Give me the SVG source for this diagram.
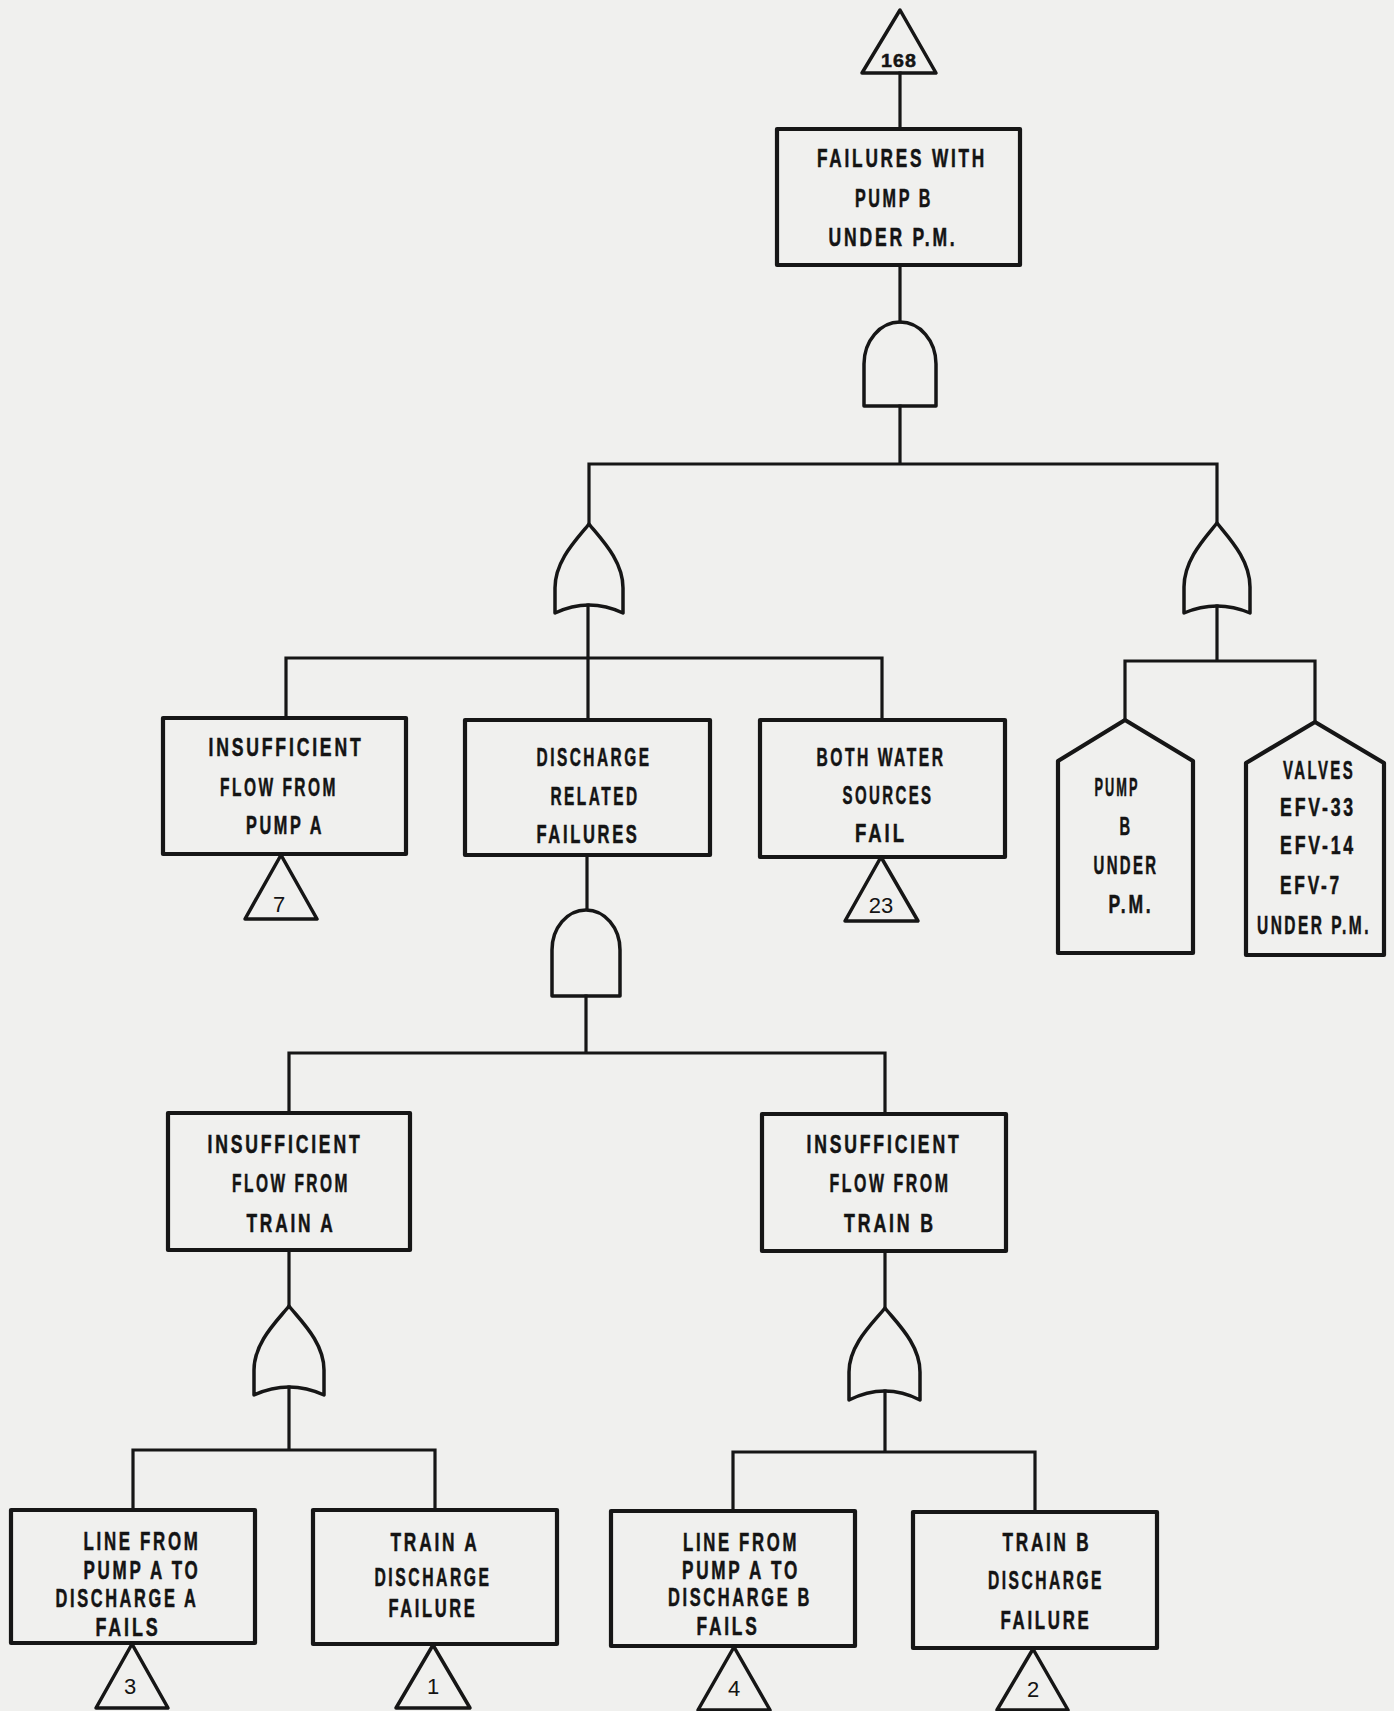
<svg xmlns="http://www.w3.org/2000/svg" width="1394" height="1711" viewBox="0 0 1394 1711">
<style>
.b{fill:none;stroke:#161616;stroke-width:4.2;stroke-linejoin:round}
.g{fill:none;stroke:#161616;stroke-width:3.5;stroke-linejoin:round}
.c{fill:none;stroke:#161616;stroke-width:3.2;stroke-linecap:square}
.t{font-family:"Liberation Sans",Arial,sans-serif;font-weight:bold;font-size:25px;letter-spacing:4px;fill:#141414;stroke:#141414;stroke-width:0.5;text-anchor:middle}
.n{font-family:"Liberation Sans",Arial,sans-serif;font-size:22px;fill:#141414;text-anchor:middle}
</style>
<rect width="1394" height="1711" fill="#f0f0ee"/>
<g id="connectors">
<path class="c" d="M900,73V129M900,265V322M900,406V464M589,464H1217M589,464V524M1217,464V523"/>
<path class="c" d="M588,605V720M286,658H882M286,658V718M882,658V720"/>
<path class="c" d="M1217,606V661M1125,661H1315M1125,661V720M1315,661V722"/>
<path class="c" d="M587,855V909M586,996V1053M289,1053H885M289,1053V1113M885,1053V1114"/>
<path class="c" d="M289,1250V1306M289,1387V1450M133,1450H435M133,1450V1510M435,1450V1510"/>
<path class="c" d="M885,1251V1308M885,1391V1452M733,1452H1035M733,1452V1510M1035,1452V1512"/>
</g>
<g id="transfer-168"><path class="g" d="M900,10L936,73H862Z"/><text class="t" x="899" y="67" style="font-size:18px;letter-spacing:1px" textLength="36" lengthAdjust="spacingAndGlyphs">168</text></g>
<g id="top-event"><rect class="b" x="777" y="129" width="243" height="136"/>
<text class="t" x="902" y="167" textLength="170" lengthAdjust="spacingAndGlyphs">FAILURES WITH</text><text class="t" x="894" y="207" textLength="78" lengthAdjust="spacingAndGlyphs">PUMP B</text><text class="t" x="893" y="246" textLength="129" lengthAdjust="spacingAndGlyphs">UNDER P.M.</text></g>
<g id="and-top"><path class="g" d="M864,406V364A36,42 0 0 1 936,364V406Z"/></g>
<g id="or-left"><path class="g" d="M589,524C578,538 555,560 555,588V613Q589,597 623,613V588C623,560 600,538 589,524Z"/></g>
<g id="or-right"><path class="g" d="M1217,523C1206,537 1184,559 1184,587V613Q1217,599 1250,613V587C1250,559 1228,537 1217,523Z"/></g>
<g id="pump-a"><rect class="b" x="163" y="718" width="243" height="136"/>
<text class="t" x="286" y="756" textLength="155" lengthAdjust="spacingAndGlyphs">INSUFFICIENT</text><text class="t" x="279" y="796" textLength="118" lengthAdjust="spacingAndGlyphs">FLOW FROM</text><text class="t" x="285" y="834" textLength="78" lengthAdjust="spacingAndGlyphs">PUMP A</text></g>
<g id="tri-7"><path class="g" d="M281,855L317,919H245Z"/><text class="n" x="279" y="912">7</text></g>
<g id="discharge"><rect class="b" x="465" y="720" width="245" height="135"/>
<text class="t" x="594" y="766" textLength="115" lengthAdjust="spacingAndGlyphs">DISCHARGE</text><text class="t" x="595" y="805" textLength="89" lengthAdjust="spacingAndGlyphs">RELATED</text><text class="t" x="588" y="843" textLength="103" lengthAdjust="spacingAndGlyphs">FAILURES</text></g>
<g id="water"><rect class="b" x="760" y="720" width="245" height="137"/>
<text class="t" x="881" y="766" textLength="129" lengthAdjust="spacingAndGlyphs">BOTH WATER</text><text class="t" x="888" y="804" textLength="91" lengthAdjust="spacingAndGlyphs">SOURCES</text><text class="t" x="881" y="842" textLength="52" lengthAdjust="spacingAndGlyphs">FAIL</text></g>
<g id="tri-23"><path class="g" d="M881,857L918,921H845Z"/><text class="n" x="881" y="913">23</text></g>
<g id="house-pump"><path class="b" d="M1125,720L1193,761V953H1058V761Z"/>
<text class="t" x="1117" y="796" textLength="45" lengthAdjust="spacingAndGlyphs">PUMP</text><text class="t" x="1126" y="835" textLength="13" lengthAdjust="spacingAndGlyphs">B</text><text class="t" x="1126" y="874" textLength="65" lengthAdjust="spacingAndGlyphs">UNDER</text><text class="t" x="1131" y="913" textLength="45" lengthAdjust="spacingAndGlyphs">P.M.</text></g>
<g id="house-valves"><path class="b" d="M1315,722L1384,763V955H1246V763Z"/>
<text class="t" transform="translate(1319,779) scale(0.6,1)" x="0" y="0">VALVES</text><text class="t" x="1318" y="816" textLength="76" lengthAdjust="spacingAndGlyphs">EFV-33</text><text class="t" x="1318" y="854" textLength="76" lengthAdjust="spacingAndGlyphs">EFV-14</text><text class="t" x="1311" y="894" textLength="62" lengthAdjust="spacingAndGlyphs">EFV-7</text><text class="t" transform="translate(1314,934) scale(0.62,1)" x="0" y="0">UNDER P.M.</text></g>
<g id="and-2"><path class="g" d="M552,996V950A34,40 0 0 1 620,950V996Z"/></g>
<g id="train-a"><rect class="b" x="168" y="1113" width="242" height="137"/>
<text class="t" x="285" y="1153" textLength="155" lengthAdjust="spacingAndGlyphs">INSUFFICIENT</text><text class="t" x="291" y="1192" textLength="118" lengthAdjust="spacingAndGlyphs">FLOW FROM</text><text class="t" x="291" y="1232" textLength="89" lengthAdjust="spacingAndGlyphs">TRAIN A</text></g>
<g id="train-b"><rect class="b" x="762" y="1114" width="244" height="137"/>
<text class="t" x="884" y="1153" textLength="155" lengthAdjust="spacingAndGlyphs">INSUFFICIENT</text><text class="t" x="890" y="1192" textLength="121" lengthAdjust="spacingAndGlyphs">FLOW FROM</text><text class="t" x="890" y="1232" textLength="92" lengthAdjust="spacingAndGlyphs">TRAIN B</text></g>
<g id="or-a"><path class="g" d="M289,1306C278,1320 254,1342 254,1370V1395Q289,1379 324,1395V1370C324,1342 300,1320 289,1306Z"/></g>
<g id="or-b"><path class="g" d="M885,1308C874,1322 849,1344 849,1372V1400Q885,1382 920,1400V1372C920,1344 896,1322 885,1308Z"/></g>
<g id="line-a"><rect class="b" x="11" y="1510" width="244" height="133"/>
<text class="t" x="142" y="1550" textLength="117" lengthAdjust="spacingAndGlyphs">LINE FROM</text><text class="t" x="142" y="1579" textLength="117" lengthAdjust="spacingAndGlyphs">PUMP A TO</text><text class="t" x="127" y="1607" textLength="143" lengthAdjust="spacingAndGlyphs">DISCHARGE A</text><text class="t" x="128" y="1636" textLength="65" lengthAdjust="spacingAndGlyphs">FAILS</text></g>
<g id="tri-3"><path class="g" d="M132,1644L168,1708H96Z"/><text class="n" x="130" y="1694">3</text></g>
<g id="train-a-dis"><rect class="b" x="313" y="1510" width="244" height="134"/>
<text class="t" x="435" y="1551" textLength="89" lengthAdjust="spacingAndGlyphs">TRAIN A</text><text class="t" x="433" y="1586" textLength="117" lengthAdjust="spacingAndGlyphs">DISCHARGE</text><text class="t" x="433" y="1617" textLength="89" lengthAdjust="spacingAndGlyphs">FAILURE</text></g>
<g id="tri-1"><path class="g" d="M433,1645L470,1708H396Z"/><text class="n" x="433" y="1694">1</text></g>
<g id="line-b"><rect class="b" x="611" y="1511" width="244" height="135"/>
<text class="t" x="741" y="1551" textLength="116" lengthAdjust="spacingAndGlyphs">LINE FROM</text><text class="t" x="741" y="1579" textLength="118" lengthAdjust="spacingAndGlyphs">PUMP A TO</text><text class="t" x="740" y="1606" textLength="144" lengthAdjust="spacingAndGlyphs">DISCHARGE B</text><text class="t" x="728" y="1635" textLength="63" lengthAdjust="spacingAndGlyphs">FAILS</text></g>
<g id="tri-4"><path class="g" d="M734,1647L770,1710H698Z"/><text class="n" x="734" y="1696">4</text></g>
<g id="train-b-dis"><rect class="b" x="913" y="1512" width="244" height="136"/>
<text class="t" x="1047" y="1551" textLength="89" lengthAdjust="spacingAndGlyphs">TRAIN B</text><text class="t" x="1046" y="1589" textLength="116" lengthAdjust="spacingAndGlyphs">DISCHARGE</text><text class="t" x="1046" y="1629" textLength="91" lengthAdjust="spacingAndGlyphs">FAILURE</text></g>
<g id="tri-2"><path class="g" d="M1033,1649L1068,1710H997Z"/><text class="n" x="1033" y="1697">2</text></g>
</svg>
